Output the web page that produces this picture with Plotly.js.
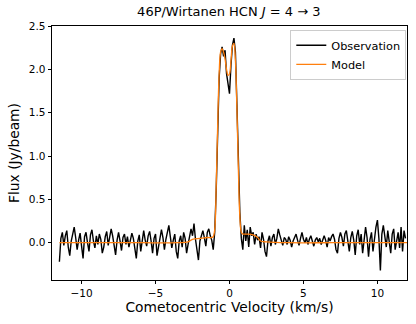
<!DOCTYPE html>
<html>
<head>
<meta charset="utf-8">
<script src="https://cdn.plot.ly/plotly-3.0.1.min.js"></script>
<style>
  html, body { margin: 0; padding: 0; background: #fff; }
  #plot { width: 416px; height: 324px; }
</style>
</head>
<body>
<div id="plot"></div>
<script>
// observed spectrum: channels every 0.1 km/s starting at -11.5 km/s
let velStart = -11.5;
let velStep = 0.1;
let obsFlux = [
  -0.22, 0.05, 0.12, -0.03, 0.08, 0.14, -0.05, -0.15, 0.02, 0.10,
  0.18, 0.06, -0.08, 0.03, 0.11, -0.04, -0.18, 0.07, 0.12, 0.00,
  -0.10, 0.09, 0.15, 0.02, -0.06, 0.08, -0.02, 0.10, 0.04, -0.12,
  -0.05, 0.07, 0.13, -0.03, 0.05, 0.16, 0.08, -0.06, -0.14, 0.03,
  0.12, 0.02, -0.09, 0.06, 0.10, -0.02, 0.07, -0.05, 0.04, 0.11,
  0.05, -0.08, -0.18, 0.02, 0.09, -0.10, 0.06, 0.14, 0.03, -0.04,
  0.08, 0.13, 0.02, -0.12, 0.05, 0.10, -0.15, -0.04, 0.09, 0.15,
  0.06, -0.08, 0.04, 0.12, 0.20, 0.07, -0.06, 0.03, 0.10, -0.10,
  -0.18, 0.02, 0.08, -0.05, 0.12, 0.05, -0.12, -0.02, 0.06, 0.16,
  0.08, 0.22, 0.04, -0.12, -0.20, 0.02, 0.10, 0.14, 0.06, -0.04,
  0.12, 0.16, 0.08, 0.03, -0.08, 0.12, 0.60, 1.30, 1.90, 2.18,
  2.26, 2.15, 2.22, 1.95, 1.85, 1.72, 2.05, 2.28, 2.36, 2.20,
  1.60, 0.90, 0.35, 0.05, -0.08, 0.20, 0.02, 0.15, -0.05, 0.18,
  0.08, 0.12, -0.02, 0.10, 0.03, 0.07, -0.06, 0.12, 0.04, -0.10,
  -0.16, 0.02, 0.08, -0.04, 0.06, 0.10, -0.02, 0.05, 0.16, 0.09,
  0.02, -0.03, 0.06, 0.04, -0.02, 0.07, 0.03, -0.05, 0.02, 0.06,
  0.10, 0.03, -0.03, 0.05, 0.12, 0.04, 0.00, 0.06, -0.02, 0.04,
  0.08, 0.02, -0.04, 0.03, 0.06, 0.01, 0.05, -0.02, 0.04, 0.08,
  0.03, -0.05, 0.06, 0.02, 0.07, 0.10, 0.04, -0.08, -0.12, 0.05,
  0.12, 0.06, -0.04, 0.10, 0.14, 0.02, -0.10, 0.06, 0.13, 0.03,
  -0.14, 0.08, 0.15, -0.02, 0.10, -0.12, 0.04, 0.18, 0.06, -0.16,
  0.04, 0.12, -0.10, 0.08, 0.18, 0.26, 0.05, -0.32, 0.10, 0.20,
  0.08, -0.05, 0.14, 0.02, -0.12, 0.10, 0.16, -0.08, 0.05, 0.12,
  -0.06, 0.18, -0.10, 0.14, 0.05
];

// model spectrum (smooth)
let modelVel = [-11.5, -9, -6, -3.5, -2.8, -2.5, -2.0, -1.5, -1.2, -1.1,
  -1.0, -0.9, -0.8, -0.7, -0.6, -0.5, -0.4, -0.3, -0.2, -0.1,
  0.0, 0.1, 0.2, 0.3, 0.4, 0.5, 0.6, 0.7, 0.8, 0.9,
  1.2, 1.6, 1.9, 2.1, 2.5, 4, 7, 10, 12];
let modelFlux = [0.00, 0.00, 0.00, 0.00, 0.01, 0.04, 0.05, 0.06, 0.06, 0.07,
  0.15, 0.65, 1.35, 1.95, 2.20, 2.24, 2.20, 2.12, 2.00, 1.93,
  1.95, 2.10, 2.27, 2.30, 2.10, 1.55, 0.85, 0.30, 0.12, 0.10,
  0.10, 0.09, 0.06, 0.02, 0.01, 0.00, 0.00, 0.00, 0.00];

let obsVel = [];
for (var i = 0; i < obsFlux.length; i++) {
    obsVel.push(velStart + velStep * i);
}

let obsTrace = {
    x: obsVel,
    y: obsFlux,
    name: "Observation",
    type: "scatter",
    mode: "lines",
    line: {color: "#000000", width: 1.4}
};

let modelTrace = {
    x: modelVel,
    y: modelFlux,
    name: "Model",
    type: "scatter",
    mode: "lines",
    line: {color: "#ff7f0e", width: 1.3, shape: "spline"}
};

let layout = {
    width: 416,
    height: 324,
    margin: {l: 52, r: 9, t: 26, b: 44},
    paper_bgcolor: "#ffffff",
    plot_bgcolor: "#ffffff",
    font: {family: "DejaVu Sans, sans-serif", color: "#000000", size: 10.5},
    title: {
        text: "46P/Wirtanen HCN <i>J</i> = 4 \u2192 3",
        font: {size: 13},
        x: 0.55, xanchor: "center",
        y: 0.965, yanchor: "middle"
    },
    xaxis: {
        range: [-12, 12],
        tickvals: [-10, -5, 0, 5, 10],
        ticks: "outside", ticklen: 3.5, tickwidth: 0.8, tickcolor: "#000",
        showline: true, linecolor: "#000", linewidth: 0.8, mirror: true,
        showgrid: false, zeroline: false,
        title: {text: "Cometocentric Velocity (km/s)", font: {size: 13.8}, standoff: 3}
    },
    yaxis: {
        range: [-0.43, 2.5],
        tickvals: [0, 0.5, 1.0, 1.5, 2.0, 2.5],
        tickformat: ".1f",
        ticks: "outside", ticklen: 3.5, tickwidth: 0.8, tickcolor: "#000",
        showline: true, linecolor: "#000", linewidth: 0.8, mirror: true,
        showgrid: false, zeroline: false,
        title: {text: "Flux (Jy/beam)", font: {size: 13.8}, standoff: 5}
    },
    legend: {
        x: 0.998, xanchor: "right",
        y: 0.985, yanchor: "top",
        bgcolor: "rgba(255,255,255,0.9)",
        bordercolor: "#cccccc", borderwidth: 1,
        font: {size: 11.3}
    },
    showlegend: true
};

Plotly.newPlot("plot", [obsTrace, modelTrace], layout, {displayModeBar: false});
</script>
</body>
</html>
